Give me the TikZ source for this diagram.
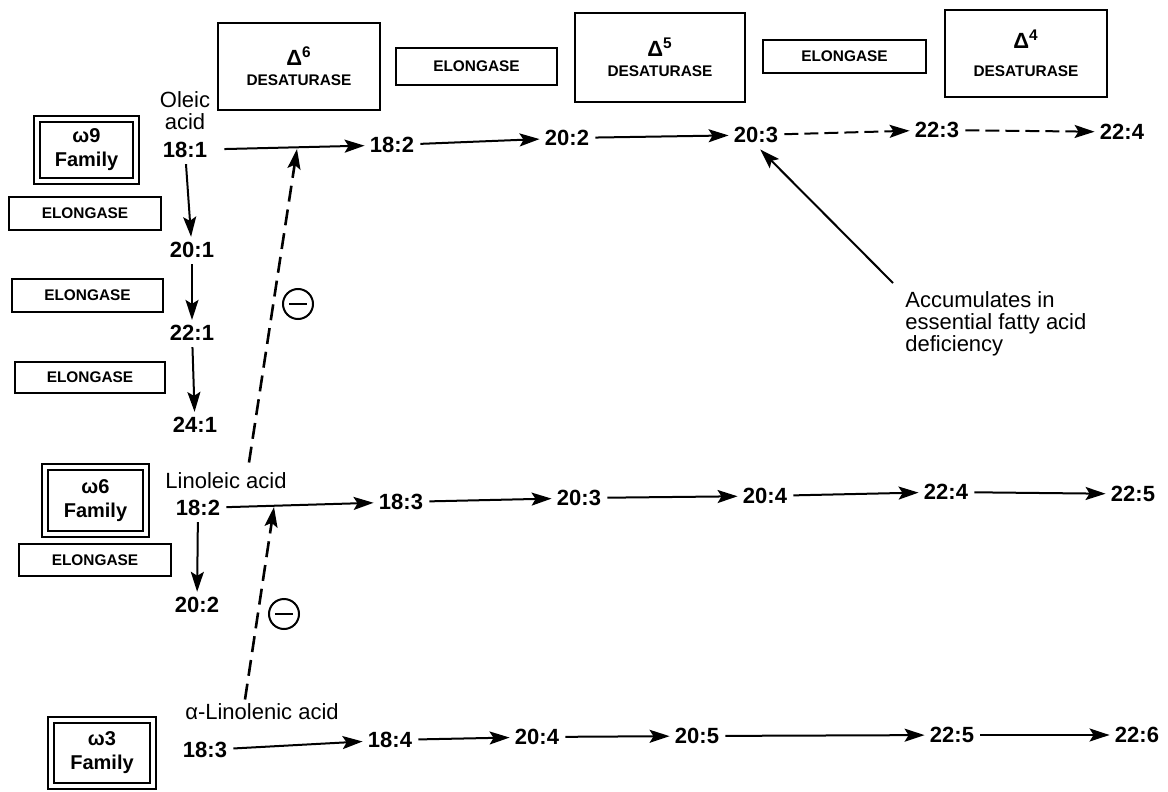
\documentclass[tikz,border=0pt]{standalone}
\usepackage{fontspec}
\setmainfont{Liberation Sans}
\usetikzlibrary{arrows.meta,calc}
\newcommand{\dlt}[1]{{\fontsize{11}{11}\selectfont Δ\textsuperscript{#1}}}
\begin{document}
\begin{tikzpicture}[x=0.5pt,y=-0.5pt,
  num/.style={font=\bfseries\fontsize{11}{12}\selectfont, inner sep=1pt},
  lbl/.style={font=\fontsize{11}{11}\selectfont, inner sep=1pt, align=center},
  enz/.style={draw, line width=1.3pt, font=\bfseries\fontsize{7.7}{9}\selectfont, inner sep=0pt, align=center},
  fam/.style={draw, line width=1pt, double, double distance=2pt, font=\bfseries\fontsize{10}{12}\selectfont, align=center, inner sep=0pt},
  arr/.style={line width=1pt, -{Stealth[length=10pt,width=6.5pt,inset=2pt]}, shorten <=2pt, shorten >=1.5pt},
  darr/.style={arr, dash pattern=on 7pt off 3pt},
  inh/.style={line width=1.3pt, -{Stealth[length=10pt,width=6.5pt,inset=2pt]}, dash pattern=on 8pt off 4pt},
  minuscirc/.style={draw, circle, line width=1pt, minimum size=15pt, inner sep=0pt}
]
\fill[white] (0,0) rectangle (1168,792);
\useasboundingbox (0,0) rectangle (1168,792);

% enzyme boxes, top
\node[enz, minimum width=81pt, minimum height=43.5pt] (d6) at (299,66.5) {\dlt{6}\\[1pt]DESATURASE};
\node[enz, minimum width=80.5pt, minimum height=18.5pt] (e1) at (476.5,66.5) {ELONGASE};
\node[enz, minimum width=85pt, minimum height=44.5pt] (d5) at (660,57.5) {\dlt{5}\\[1pt]DESATURASE};
\node[enz, minimum width=81.5pt, minimum height=16.5pt] (e2) at (844.5,56.5) {ELONGASE};
\node[enz, minimum width=81pt, minimum height=43.5pt] (d4) at (1026,53.5) {\dlt{4}\\[5pt]DESATURASE};

% enzyme boxes, left
\node[enz, minimum width=76pt, minimum height=16.5pt] (l1) at (85,213.5) {ELONGASE};
\node[enz, minimum width=75.5pt, minimum height=16.5pt] (l2) at (87.5,295.5) {ELONGASE};
\node[enz, minimum width=75pt, minimum height=15.5pt] (l3) at (90,377.5) {ELONGASE};
\node[enz, minimum width=76pt, minimum height=16pt] (l6) at (95,560) {ELONGASE};

% family boxes
\node[fam, minimum width=49.5pt, minimum height=31pt] (f9) at (86.5,150) {ω9\\Family};
\node[fam, minimum width=50.5pt, minimum height=33.5pt] (f6) at (95.5,500.5) {ω6\\Family};
\node[fam, minimum width=51pt, minimum height=33pt] (f3) at (102,753) {ω3\\Family};

% labels
\node[lbl] (oleic) at (185,111) {Oleic\\acid};
\node[lbl] (lino) at (226,481) {Linoleic acid};
\node[lbl] (alin) at (262,712) {α-Linolenic acid};
\node[lbl, align=left, anchor=north west] (note) at (903,289) {Accumulates in\\essential fatty acid\\deficiency};

% omega-9 row
\node[num] (t181) at (185,150) {18:1};
\node[num] (t182) at (392,145) {18:2};
\node[num] (t202) at (567,138) {20:2};
\node[num] (t203) at (756,135) {20:3};
\node[num] (t223) at (937,130) {22:3};
\node[num] (t224) at (1122,132) {22:4};
\node[num] (v201) at (192,250) {20:1};
\node[num] (v221) at (192,333) {22:1};
\node[num] (v241) at (195,425) {24:1};

% omega-6 row
\node[num] (m182) at (198,508) {18:2};
\node[num] (m183) at (401,502) {18:3};
\node[num] (m203) at (579,498) {20:3};
\node[num] (m204) at (765,496) {20:4};
\node[num] (m224) at (946,492) {22:4};
\node[num] (m225) at (1133,494) {22:5};
\node[num] (m202) at (197,605) {20:2};

% omega-3 row
\node[num] (b183) at (205,750) {18:3};
\node[num] (b184) at (390,740) {18:4};
\node[num] (b204) at (537,737) {20:4};
\node[num] (b205) at (697,736) {20:5};
\node[num] (b225) at (952,735) {22:5};
\node[num] (b226) at (1137,735) {22:6};

% arrows omega-9
\draw[arr, shorten <=7.5pt] (t181) -- (t182);
\draw[arr] (t182) -- (t202);
\draw[arr] (t202) -- (t203);
\draw[darr] (t203) -- (t223);
\draw[darr] (t223) -- (t224);
\draw[arr] (t181) -- (v201);
\draw[arr] (v201) -- (v221);
\draw[arr] (v221) -- (v241);

% arrows omega-6
\draw[arr] (m182) -- (m183);
\draw[arr] (m183) -- (m203);
\draw[arr] (m203) -- (m204);
\draw[arr] (m204) -- (m224);
\draw[arr] (m224) -- (m225);
\draw[arr] (m182) -- (m202);

% arrows omega-3
\draw[arr] (b183) -- (b184);
\draw[arr] (b184) -- (b204);
\draw[arr] (b204) -- (b205);
\draw[arr] (b205) -- (b225);
\draw[arr] (b225) -- (b226);

% inhibition
\coordinate (h1) at (297,149);
\coordinate (h2) at (274,507);
\draw[inh] ([xshift=11.5pt,yshift=4pt]lino.north) -- (h1);
\draw[inh] ([xshift=-8.5pt,yshift=1pt]alin.north) -- (h2);
\node[minuscirc] (c1) at (298,304) {};
\draw[line width=1.2pt] ([xshift=-4.5pt]c1.center) -- ([xshift=4.5pt]c1.center);
\node[minuscirc] (c2) at (284,614) {};
\draw[line width=1.2pt] ([xshift=-4.5pt]c2.center) -- ([xshift=4.5pt]c2.center);

% note arrow
\draw[arr, shorten <=0pt, shorten >=3pt] ([xshift=-5pt,yshift=3pt]note.north west) -- (t203.south);
\end{tikzpicture}
\end{document}
